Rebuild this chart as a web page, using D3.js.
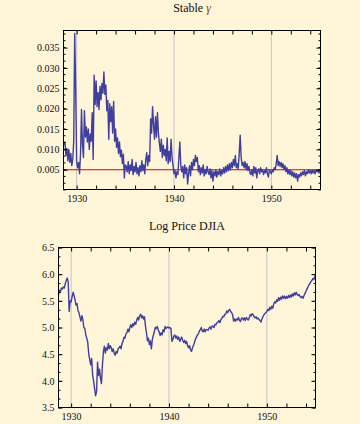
<!DOCTYPE html>
<html>
<head>
<meta charset="utf-8">
<script src="https://cdn.jsdelivr.net/npm/d3@7"></script>
<style>
  body { margin: 0; background: #fff5d9; }
  svg { display: block; }
  text { font-family: 'Liberation Serif', 'Times New Roman', serif; fill: #111; }
</style>
</head>
<body>
<div id="chart"></div>
<script>
// Datos, paso de 0.1 anos desde 1928.7
gamma = [
  0.0110, 0.0118, 0.0085,
  0.0102, 0.0072, 0.0100, 0.0068, 0.0090, 0.0060, 0.0075, 0.0120, 0.0385, 0.0250, // 1929
  0.0070, 0.0055, 0.0068, 0.0040, 0.0090, 0.0198, 0.0110, 0.0080, 0.0195, 0.0130, // 1930
  0.0155, 0.0118, 0.0150, 0.0100, 0.0138, 0.0120, 0.0190, 0.0075, 0.0282, 0.0210, // 1931
  0.0268, 0.0205, 0.0240, 0.0198, 0.0255, 0.0222, 0.0262, 0.0238, 0.0290, 0.0235, // 1932
  0.0258, 0.0195, 0.0220, 0.0125, 0.0212, 0.0168, 0.0205, 0.0140, 0.0218, 0.0120, // 1933
  0.0150, 0.0105, 0.0128, 0.0090, 0.0118, 0.0082, 0.0098, 0.0065, 0.0088, 0.0030, // 1934
  0.0062, 0.0058, 0.0045, 0.0070, 0.0040, 0.0062, 0.0048, 0.0075, 0.0038, 0.0058, // 1935
  0.0045, 0.0068, 0.0040, 0.0055, 0.0035, 0.0060, 0.0045, 0.0072, 0.0048, 0.0062, // 1936
  0.0040, 0.0075, 0.0092, 0.0060, 0.0085, 0.0070, 0.0175, 0.0140, 0.0205, 0.0160, // 1937
  0.0125, 0.0180, 0.0130, 0.0190, 0.0140, 0.0115, 0.0095, 0.0125, 0.0080, 0.0110, // 1938
  0.0085, 0.0100, 0.0072, 0.0128, 0.0065, 0.0095, 0.0070, 0.0125, 0.0080, 0.0060, // 1939
  0.0040, 0.0048, 0.0030, 0.0045, 0.0038, 0.0080, 0.0118, 0.0060, 0.0045, 0.0058, // 1940
  0.0030, 0.0062, 0.0040, 0.0055, 0.0015, 0.0040, 0.0060, 0.0035, 0.0068, 0.0050, // 1941
  0.0075, 0.0060, 0.0085, 0.0070, 0.0080, 0.0045, 0.0060, 0.0038, 0.0055, 0.0042, // 1942
  0.0062, 0.0035, 0.0050, 0.0040, 0.0058, 0.0045, 0.0038, 0.0052, 0.0030, 0.0048, // 1943
  0.0022, 0.0045, 0.0035, 0.0050, 0.0032, 0.0046, 0.0038, 0.0052, 0.0035, 0.0048, // 1944
  0.0040, 0.0055, 0.0042, 0.0058, 0.0045, 0.0062, 0.0048, 0.0065, 0.0050, 0.0068, // 1945
  0.0055, 0.0075, 0.0060, 0.0085, 0.0055, 0.0065, 0.0052, 0.0090, 0.0135, 0.0080, // 1946
  0.0060, 0.0068, 0.0055, 0.0070, 0.0050, 0.0065, 0.0048, 0.0058, 0.0042, 0.0038, // 1947
  0.0050, 0.0035, 0.0058, 0.0042, 0.0055, 0.0030, 0.0048, 0.0052, 0.0040, 0.0055, // 1948
  0.0045, 0.0050, 0.0038, 0.0048, 0.0042, 0.0055, 0.0040, 0.0032, 0.0050, 0.0045, // 1949
  0.0040, 0.0050, 0.0045, 0.0055, 0.0050, 0.0065, 0.0085, 0.0060, 0.0070, 0.0058, // 1950
  0.0068, 0.0055, 0.0065, 0.0050, 0.0060, 0.0045, 0.0055, 0.0040, 0.0050, 0.0038, // 1951
  0.0048, 0.0035, 0.0045, 0.0032, 0.0042, 0.0030, 0.0040, 0.0022, 0.0038, 0.0032, // 1952
  0.0042, 0.0035, 0.0045, 0.0038, 0.0048, 0.0035, 0.0045, 0.0040, 0.0050, 0.0042, // 1953
  0.0048, 0.0040, 0.0050, 0.0042, 0.0048, 0.0040, 0.0050, 0.0045, 0.0048, 0.0042, // 1954
  0.0048
]

logPrice = [
  5.60, 5.70, 5.66,
  5.74, 5.72, 5.76, 5.74, 5.82, 5.88, 5.93, 5.86, 5.30, 5.50, // 1929
  5.48, 5.58, 5.66, 5.60, 5.52, 5.42, 5.45, 5.32, 5.28, 5.20, // 1930
  5.12, 5.22, 5.15, 5.00, 4.98, 4.86, 4.80, 4.72, 4.50, 4.40, // 1931
  4.30, 4.42, 4.10, 4.00, 3.85, 3.72, 3.80, 4.35, 4.10, 4.22, // 1932
  4.05, 3.95, 4.30, 4.55, 4.65, 4.52, 4.62, 4.58, 4.70, 4.60, // 1933
  4.66, 4.62, 4.55, 4.60, 4.52, 4.48, 4.55, 4.52, 4.60, 4.62, // 1934
  4.65, 4.60, 4.70, 4.74, 4.82, 4.80, 4.88, 4.90, 4.97, 4.92, // 1935
  5.00, 5.05, 5.00, 5.07, 5.03, 5.10, 5.06, 5.14, 5.19, 5.14, // 1936
  5.22, 5.25, 5.18, 5.22, 5.16, 5.20, 5.02, 4.90, 4.75, 4.80, // 1937
  4.68, 4.75, 4.60, 4.78, 4.85, 4.92, 5.00, 4.98, 5.02, 4.95, // 1938
  4.92, 4.85, 4.90, 4.86, 4.96, 4.92, 5.02, 4.98, 5.00, 5.01, // 1939
  4.99, 5.00, 4.98, 4.74, 4.78, 4.84, 4.86, 4.80, 4.84, 4.78, // 1940
  4.82, 4.74, 4.78, 4.82, 4.76, 4.72, 4.76, 4.70, 4.74, 4.66, // 1941
  4.62, 4.66, 4.58, 4.55, 4.62, 4.66, 4.72, 4.78, 4.82, 4.86, // 1942
  4.88, 4.93, 4.96, 5.00, 4.93, 4.92, 4.97, 4.92, 4.96, 4.96, // 1943
  4.95, 4.99, 5.01, 4.97, 5.03, 5.02, 5.00, 5.06, 5.05, 5.09, // 1944
  5.10, 5.13, 5.09, 5.15, 5.17, 5.21, 5.20, 5.25, 5.25, 5.31, // 1945
  5.28, 5.32, 5.34, 5.30, 5.28, 5.24, 5.12, 5.16, 5.12, 5.16, // 1946
  5.14, 5.19, 5.14, 5.11, 5.17, 5.18, 5.14, 5.18, 5.13, 5.19, // 1947
  5.16, 5.14, 5.18, 5.24, 5.22, 5.26, 5.24, 5.20, 5.18, 5.20, // 1948
  5.16, 5.18, 5.15, 5.13, 5.10, 5.16, 5.20, 5.24, 5.26, 5.28, // 1949
  5.30, 5.34, 5.32, 5.38, 5.34, 5.40, 5.36, 5.44, 5.48, 5.46, // 1950
  5.52, 5.49, 5.56, 5.51, 5.57, 5.53, 5.59, 5.55, 5.59, 5.54, // 1951
  5.58, 5.55, 5.60, 5.56, 5.61, 5.57, 5.63, 5.59, 5.65, 5.61, // 1952
  5.66, 5.62, 5.60, 5.62, 5.58, 5.56, 5.58, 5.55, 5.60, 5.64, // 1953
  5.68, 5.72, 5.76, 5.80, 5.82, 5.86, 5.88, 5.92, 5.90, 5.95, // 1954
  5.98
]

// Etiquetas de los ejes
yearLabels = [1930, 1940, 1950]
yearTicks  = [1930, 1932, 1934, 1936, 1938, 1940, 1942, 1944, 1946, 1948, 1950, 1952, 1954]
gammaTicks = [0.005, 0.010, 0.015, 0.020, 0.025, 0.030, 0.035]
priceTicks = [3.5, 4.0, 4.5, 5.0, 5.5, 6.0, 6.5]
gammaRef   = [0.005]

svg = d3.select('#chart')
  .append('svg')
  .attr('width', 360)
  .attr('height', 424)

function panel(cfg) {
  ancho = cfg.right - cfg.left
  alto  = cfg.bottom - cfg.top
  g = svg.append('g').attr('transform', `translate(${cfg.left}, ${cfg.top})`)

  x = d3.scaleLinear().domain(cfg.xDomain).range([0, ancho])
  y = d3.scaleLinear().domain(cfg.yDomain).range([alto, 0])

  // Lineas de rejilla verticales
  g.selectAll('.vgrid')
    .data(yearLabels)
    .enter()
    .append('line')
      .attr('x1', d => x(d)).attr('x2', d => x(d))
      .attr('y1', 0).attr('y2', alto)
      .attr('stroke', '#c4c4c4')
      .attr('stroke-width', 1)

  // Linea de referencia roja
  g.selectAll('.ref')
    .data(cfg.ref)
    .enter()
    .append('line')
      .attr('x1', 0).attr('x2', ancho)
      .attr('y1', d => y(d)).attr('y2', d => y(d))
      .attr('stroke', '#e00000')
      .attr('stroke-width', 1.1)

  linea = d3.line()
    .x((d, i) => x(1928.7 + i * 0.1))
    .y(d => y(d))

  g.append('defs').append('clipPath').attr('id', cfg.id)
    .append('rect').attr('width', ancho).attr('height', alto)

  g.append('path')
    .attr('clip-path', `url(#${cfg.id})`)
    .attr('fill', 'none')
    .attr('stroke', '#3f3f9f')
    .attr('stroke-width', 1.4)
    .attr('stroke-linejoin', 'round')
    .attr('d', linea(cfg.data))

  // Ejes del marco, ticks hacia dentro
  minor = d3.range(cfg.yDomain[0], cfg.yDomain[1] + 1e-9, cfg.yStep / 3)
  xAxisCall = d3.axisBottom(x).tickValues(yearTicks).tickSize(-4).tickSizeOuter(0)
    .tickPadding(5).tickFormat(d => yearLabels.includes(d) ? d : '')
  g.append('g').attr('class', 'ax').attr('transform', `translate(0, ${alto})`).call(xAxisCall)
  g.append('g').attr('class', 'ax').call(d3.axisTop(x).tickValues(yearTicks).tickSize(-4).tickSizeOuter(0).tickFormat(''))

  g.append('g').attr('class', 'ax').call(d3.axisLeft(y).tickValues(cfg.yTicks).tickSize(-4).tickSizeOuter(0)
    .tickPadding(4).tickFormat(cfg.fmt))
  g.append('g').attr('class', 'ax').call(d3.axisLeft(y).tickValues(minor).tickSize(-2).tickSizeOuter(0).tickFormat(''))
  g.append('g').attr('class', 'ax').attr('transform', `translate(${ancho}, 0)`)
    .call(d3.axisRight(y).tickValues(cfg.yTicks).tickSize(-4).tickSizeOuter(0).tickFormat(''))
  g.append('g').attr('class', 'ax').attr('transform', `translate(${ancho}, 0)`)
    .call(d3.axisRight(y).tickValues(minor).tickSize(-2).tickSizeOuter(0).tickFormat(''))

  g.selectAll('.ax .domain').remove()
  g.selectAll('.ax line').attr('stroke', '#000')
  g.selectAll('.ax text').attr('font-size', 10).attr('fill', '#111')
    .style('font-family', "'Liberation Serif', serif")

  g.append('rect')
    .attr('width', ancho).attr('height', alto)
    .attr('fill', 'none').attr('stroke', '#000').attr('stroke-width', 1)

  t = g.append('text')
    .attr('x', ancho / 2)
    .attr('y', cfg.titleY - cfg.top)
    .attr('text-anchor', 'middle')
    .attr('font-size', 12)
  cfg.title(t)
}

panel({
  id: 'c1', left: 63.5, right: 320.5, top: 30.5, bottom: 189.5,
  xDomain: [1928.65, 1955.05], yDomain: [0.00014, 0.0392], yStep: 0.005,
  yTicks: gammaTicks, fmt: d3.format('.3f'), data: gamma, ref: gammaRef,
  titleY: 12,
  title: t => { t.append('tspan').text('Stable '); t.append('tspan').attr('font-style', 'italic').attr('fill', '#8a4a00').text('γ') }
})

panel({
  id: 'c2', left: 58.5, right: 315.5, top: 247.5, bottom: 407.5,
  xDomain: [1928.71, 1954.97], yDomain: [3.5, 6.5], yStep: 0.5,
  yTicks: priceTicks, fmt: d3.format('.1f'), data: logPrice, ref: [],
  titleY: 230,
  title: t => t.text('Log Price DJIA')
})
</script>
</body>
</html>
